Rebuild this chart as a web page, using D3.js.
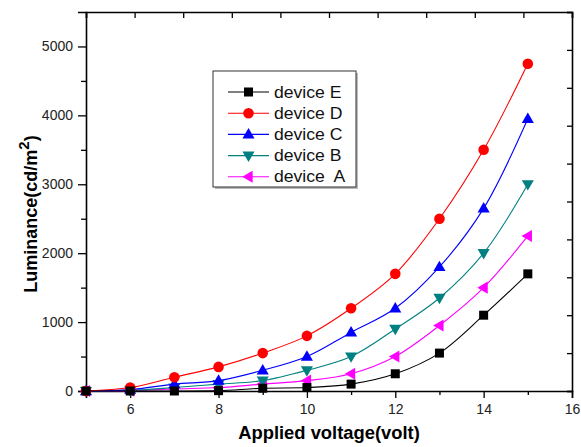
<!DOCTYPE html>
<html>
<head>
<meta charset="utf-8">
<script src="https://cdn.jsdelivr.net/npm/d3@7"></script>
<style>
  body { margin: 0; background: #fff; }
  svg { font-family: "Liberation Sans", Arial, sans-serif; }
</style>
</head>
<body>
<svg id="chart" width="581" height="447"></svg>
<script>
const voltage = [5, 6, 7, 8, 9, 10, 11, 12, 13, 14, 15];

const deviceE = [0, 0, 0, 5, 40, 50, 100, 250, 550, 1100, 1700];
const deviceD = [0, 50, 200, 350, 550, 800, 1200, 1700, 2500, 3500, 4750];
const deviceC = [0, 20, 100, 150, 300, 500, 850, 1200, 1800, 2650, 3950];
const deviceB = [0, 10, 50, 100, 150, 300, 500, 900, 1350, 2000, 3000];
const deviceA = [0, 5, 30, 50, 100, 150, 250, 500, 950, 1500, 2250];

const seriesNames = ["device E", "device D", "device C", "device B", "device  A"];
const seriesColors = ["#000000", "#ff0000", "#0000ff", "#008080", "#ff00ff"];
const seriesSymbols = ["square", "circle", "up", "down", "left"];

const xTicks = [6, 8, 10, 12, 14, 16];
const yTicks = [0, 1000, 2000, 3000, 4000, 5000];

const svg = d3.select("#chart");
const width = +svg.attr("width");
const height = +svg.attr("height");
const margin = { top: 12, right: 9, bottom: 56, left: 86 };
const innerWidth = width - margin.left - margin.right;
const innerHeight = height - margin.top - margin.bottom;

const g = svg.append("g")
  .attr("transform", `translate(${margin.left}, ${margin.top})`);

const x = d3.scaleLinear().domain([5, 16]).range([0, innerWidth]);
const y = d3.scaleLinear().domain([0, 5500]).range([innerHeight, 0]);

// bottom axis: major even ticks, minor odd ticks (outward)
g.append("g")
  .attr("transform", `translate(0, ${innerHeight})`)
  .call(d3.axisBottom(x).tickValues(xTicks).tickSize(7).tickPadding(6).tickFormat(d3.format("d")));
const xMinor = g.append("g")
  .attr("transform", `translate(0, ${innerHeight})`)
  .call(d3.axisBottom(x).tickValues(d3.range(5, 16, 2)).tickSize(4).tickFormat(""));
xMinor.select(".domain").remove();
xMinor.selectAll("text").remove();

// left axis
g.append("g")
  .call(d3.axisLeft(y).tickValues(yTicks).tickSize(8).tickPadding(5).tickFormat(d3.format("d")));
const yMinor = g.append("g")
  .call(d3.axisLeft(y).tickValues(d3.range(500, 5500, 1000)).tickSize(5).tickFormat(""));
yMinor.select(".domain").remove();
yMinor.selectAll("text").remove();

// top and right axes: ten equal divisions, ticks inward
const frac = d3.scaleLinear().domain([0, 10]);
const topAxis = g.append("g")
  .call(d3.axisBottom(frac.copy().range([0, innerWidth])).ticks(10).tickSize(6).tickFormat(""));
const rightAxis = g.append("g")
  .attr("transform", `translate(${innerWidth}, 0)`)
  .call(d3.axisLeft(frac.copy().range([innerHeight, 0])).ticks(10).tickSize(5).tickFormat(""));
topAxis.selectAll("text").remove();
rightAxis.selectAll("text").remove();

g.selectAll(".domain").attr("stroke", "#000").attr("stroke-width", 1.6);
g.selectAll(".tick line").attr("stroke", "#000").attr("stroke-width", 1.3);
g.selectAll(".tick text").attr("font-size", "14px").attr("fill", "#222")
  .attr("font-family", "'Liberation Sans', Arial, sans-serif");

const seriesData = [deviceE, deviceD, deviceC, deviceB, deviceA];

function symbolPath(type, s) {
  if (type === "square") return `M${-s},${-s}H${s}V${s}H${-s}Z`;
  if (type === "up") return `M0,${-s * 1.15}L${s * 1.1},${s * 0.75}L${-s * 1.1},${s * 0.75}Z`;
  if (type === "down") return `M0,${s * 1.15}L${s * 1.1},${-s * 0.75}L${-s * 1.1},${-s * 0.75}Z`;
  if (type === "left") return `M${-s * 1.15},0L${s * 0.75},${-s * 1.1}L${s * 0.75},${s * 1.1}Z`;
  return null;
}

function drawMarker(sel, type, color, cx, cy) {
  if (type === "circle") {
    sel.append("circle").attr("cx", cx).attr("cy", cy).attr("r", 5.3).attr("fill", color);
  } else {
    const s = type === "square" ? 4.5 : 5.5;
    sel.append("path").attr("d", symbolPath(type, s))
      .attr("transform", `translate(${cx},${cy})`).attr("fill", color);
  }
}

const line = d3.line()
  .x(d => x(d[0]))
  .y(d => y(d[1]))
  .curve(d3.curveCatmullRom.alpha(0.5));

// draw A first so E ends on top like the original
for (let i = seriesData.length - 1; i >= 0; i--) {
  const pts = voltage.map((v, j) => [v, seriesData[i][j]]);
  const sg = g.append("g");
  sg.append("path")
    .datum(pts)
    .attr("fill", "none")
    .attr("stroke", seriesColors[i])
    .attr("stroke-width", 1.1)
    .attr("d", line);
  pts.forEach(p => drawMarker(sg, seriesSymbols[i], seriesColors[i], x(p[0]), y(p[1])));
}

// legend
const legend = g.append("g").attr("transform", `translate(${213 - margin.left}, ${71 - margin.top})`);
legend.append("rect")
  .attr("x", 2).attr("y", 2).attr("width", 143).attr("height", 116)
  .attr("fill", "#bbb");
legend.append("rect")
  .attr("width", 143).attr("height", 116)
  .attr("fill", "#fff").attr("stroke", "#333").attr("stroke-width", 1);

seriesNames.forEach((name, i) => {
  const ry = 21 + i * 21.2;
  legend.append("line")
    .attr("x1", 15).attr("x2", 56).attr("y1", ry).attr("y2", ry)
    .attr("stroke", seriesColors[i]).attr("stroke-width", 1.1);
  drawMarker(legend, seriesSymbols[i], seriesColors[i], 35.5, ry);
  legend.append("text")
    .attr("transform", `translate(61, ${ry + 5.5}) scale(1.1, 1)`)
    .attr("font-size", "16px")
    .style("white-space", "pre")
    .attr("fill", "#111")
    .text(name);
});

// axis titles
svg.append("text")
  .attr("transform", `translate(329, 439) scale(1.05, 1)`)
  .attr("text-anchor", "middle")
  .attr("font-size", "17.5px")
  .attr("font-weight", "bold")
  .text("Applied voltage(volt)");

const yTitle = svg.append("text")
  .attr("transform", `translate(37, 214) rotate(-90)`)
  .attr("text-anchor", "middle")
  .attr("font-size", "18px")
  .attr("font-weight", "bold");
yTitle.append("tspan").text("Luminance(cd/m");
yTitle.append("tspan").attr("dy", -8).attr("font-size", "15px").text("2");
yTitle.append("tspan").attr("dy", 8).text(")");
</script>
</body>
</html>
